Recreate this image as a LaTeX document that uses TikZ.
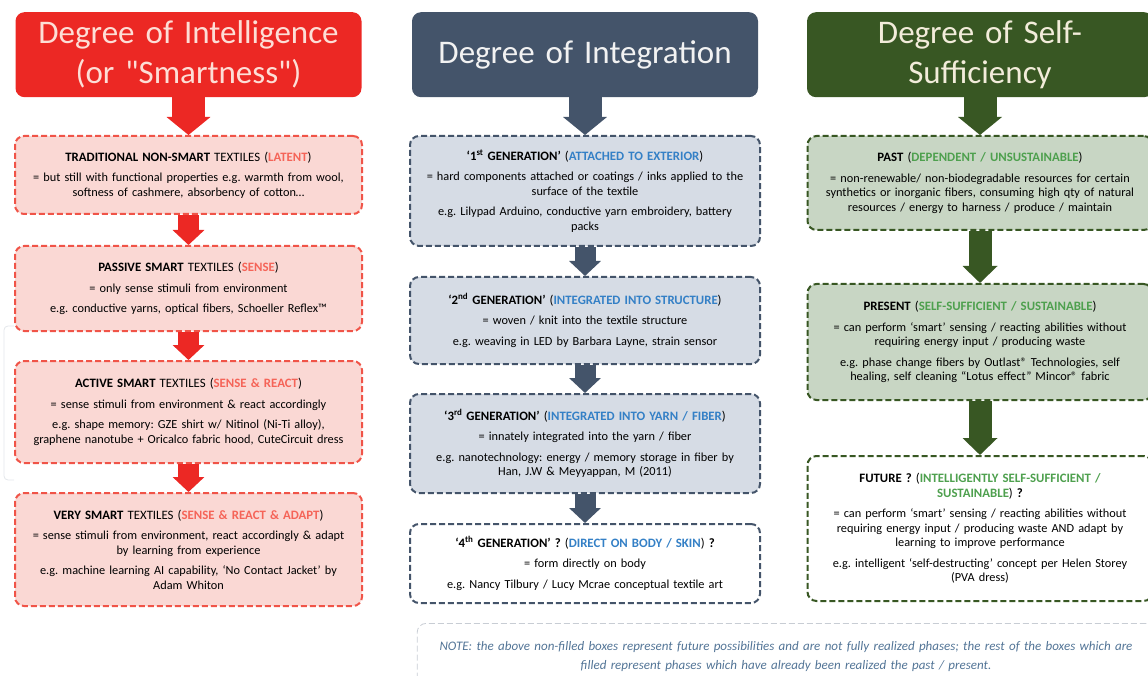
\documentclass[tikz,border=0pt]{standalone}
\usepackage{fontspec}
\setmainfont{Carlito}
\usetikzlibrary{arrows.meta}
\frenchspacing

\definecolor{redmain}{RGB}{236,40,36}
\definecolor{redline}{RGB}{240,84,72}
\definecolor{redfill}{RGB}{250,216,212}
\definecolor{redhl}{RGB}{245,100,88}
\definecolor{redtxt}{RGB}{253,222,214}
\definecolor{bluemain}{RGB}{68,84,106}
\definecolor{bluefill}{RGB}{214,220,229}
\definecolor{bluehl}{RGB}{52,128,198}
\definecolor{bluetxt}{RGB}{242,242,242}
\definecolor{greenmain}{RGB}{56,87,35}
\definecolor{greenfill}{RGB}{200,214,196}
\definecolor{greenhl}{RGB}{78,160,78}
\definecolor{greentxt}{RGB}{242,236,218}
\definecolor{notetxt}{RGB}{82,116,150}
\definecolor{noteline}{RGB}{200,205,212}

\newcommand{\phasehl}[2]{\textcolor{#1}{\textbf{#2}}}
\newcommand{\phasetitle}[1]{{\fontsize{12.8}{15}\selectfont #1}}
\newcommand{\straightquote}{\XeTeXglyph\XeTeXcharglyph"0022\relax}

\tikzset{
  headbox/.style={rounded corners=9pt, anchor=north, minimum height=85pt, align=center,
    text width=340pt, inner sep=3pt, font=\fontsize{33}{40}\selectfont},
  stagebox/.style={draw, line width=2pt, dash pattern=on 6pt off 3pt, rounded corners=9pt,
    anchor=north, align=center, inner xsep=3pt, font=\fontsize{12.3}{14.5}\selectfont},
  redbox/.style={stagebox, draw=redline, fill=redfill, text width=341pt},
  bluebox/.style={stagebox, draw=bluemain, fill=bluefill, text width=344pt},
  greenbox/.style={stagebox, draw=greenmain, fill=greenfill, text width=339pt},
  headarrow/.style={line width=33pt, -{Triangle[width=43pt,length=18pt]}},
  steparrow/.style={line width=21pt, -{Triangle[width=31pt,length=15pt]}},
  longarrow/.style={line width=23pt, -{Triangle[width=34pt,length=17pt]}},
}

\begin{document}
\begin{tikzpicture}[x=1pt, y=-1pt]
  \useasboundingbox (0,0) rectangle (1148,676);
  \draw[noteline!50, line width=0.8pt, rounded corners=4pt] (14,326) -- (4,326) -- (4,480) -- (14,480);

  % headers
  \node[headbox, fill=redmain, text=redtxt] (intel) at (188.5,12) {Degree of Intelligence\\(or \straightquote Smartness\straightquote)};
  \node[headbox, fill=bluemain, text=bluetxt] (integ) at (585,12) {Degree of Integration};
  \node[headbox, fill=greenmain, text=greentxt] (suff) at (980,12) {Degree of Self-\\Sufficiency};

  % intelligence
  \node[redbox, minimum height=78pt] (latent) at (188.5,135)
    {\phasetitle{\textbf{TRADITIONAL NON-SMART} TEXTILES (\phasehl{redhl}{LATENT})}\\[6pt]
     = but still with functional properties e.g. warmth from wool,\\
     softness of cashmere, absorbency of cotton…};
  \node[redbox, minimum height=85pt] (sense) at (188.5,245)
    {\phasetitle{\textbf{PASSIVE SMART} TEXTILES (\phasehl{redhl}{SENSE})}\\[6pt]
     = only sense stimuli from environment\\[6pt]
     e.g. conductive yarns, optical fibers, Schoeller Reflex™};
  \node[redbox, minimum height=102pt] (react) at (188.5,360)
    {\phasetitle{\textbf{ACTIVE SMART} TEXTILES (\phasehl{redhl}{SENSE \& REACT})}\\[6pt]
     = sense stimuli from environment \& react accordingly\\[6pt]
     e.g. shape memory: GZE shirt w/ Nitinol (Ni-Ti alloy),\\
     graphene nanotube + Oricalco fabric hood, CuteCircuit dress};
  \node[redbox, minimum height=113pt] (adapt) at (188.5,492)
    {\phasetitle{\textbf{VERY SMART} TEXTILES (\phasehl{redhl}{SENSE \& REACT \& ADAPT})}\\[6pt]
     = sense stimuli from environment, react accordingly \& adapt\\
     by learning from experience\\[6pt]
     e.g. machine learning AI capability, ‘No Contact Jacket’ by\\
     Adam Whiton};

  % integration
  \node[bluebox, minimum height=110pt] (gen1) at (585,135)
    {\phasetitle{\textbf{‘1\textsuperscript{st} GENERATION’} (\phasehl{bluehl}{ATTACHED TO EXTERIOR})}\\[6pt]
     = hard components attached or coatings / inks applied to the\\
     surface of the textile\\[6pt]
     e.g. Lilypad Arduino, conductive yarn embroidery, battery\\
     packs};
  \node[bluebox, minimum height=87pt] (gen2) at (585,276)
    {\phasetitle{\textbf{‘2\textsuperscript{nd} GENERATION’} (\phasehl{bluehl}{INTEGRATED INTO STRUCTURE})}\\[6pt]
     = woven / knit into the textile structure\\[6pt]
     e.g. weaving in LED by Barbara Layne, strain sensor};
  \node[bluebox, minimum height=99pt] (gen3) at (585,393)
    {\phasetitle{\textbf{‘3\textsuperscript{rd} GENERATION’} (\phasehl{bluehl}{INTEGRATED INTO YARN / FIBER})}\\[6pt]
     = innately integrated into the yarn / fiber\\[6pt]
     e.g. nanotechnology: energy / memory storage in fiber by\\
     Han, J.W \& Meyyappan, M (2011)};
  \node[bluebox, fill=white, minimum height=79pt] (gen4) at (585,523)
    {\phasetitle{\textbf{‘4\textsuperscript{th} GENERATION’ ?} (\phasehl{bluehl}{DIRECT ON BODY / SKIN}) \textbf{?}}\\[6pt]
     = form directly on body\\[6pt]
     e.g. Nancy Tilbury / Lucy Mcrae conceptual textile art};

  % self-sufficiency
  \node[greenbox, minimum height=94pt] (past) at (980,135)
    {\phasetitle{\textbf{PAST} (\phasehl{greenhl}{DEPENDENT / UNSUSTAINABLE})}\\[6pt]
     = non-renewable/ non-biodegradable resources for certain\\
     synthetics or inorganic fibers, consuming high qty of natural\\
     resources / energy to harness / produce / maintain};
  \node[greenbox, minimum height=116pt] (present) at (980,283)
    {\phasetitle{\textbf{PRESENT} (\phasehl{greenhl}{SELF-SUFFICIENT / SUSTAINABLE})}\\[6pt]
     = can perform ‘smart’ sensing / reacting abilities without\\
     requiring energy input / producing waste\\[6pt]
     e.g. phase change fibers by Outlast® Technologies, self\\
     healing, self cleaning “Lotus effect” Mincor® fabric};
  \node[greenbox, fill=white, minimum height=145pt] (future) at (980,455)
    {\phasetitle{\textbf{FUTURE ?} (\phasehl{greenhl}{INTELLIGENTLY SELF-SUFFICIENT /}}\\
     \phasetitle{\phasehl{greenhl}{SUSTAINABLE}) \textbf{?}}\\[6pt]
     = can perform ‘smart’ sensing / reacting abilities without\\
     requiring energy input / producing waste AND adapt by\\
     learning to improve performance\\[6pt]
     e.g. intelligent ‘self-destructing’ concept per Helen Storey\\
     (PVA dress)};

  % note
  \node[draw=noteline, line width=0.8pt, dash pattern=on 6pt off 3pt, rounded corners=9pt,
    anchor=north, align=center, text width=731pt, minimum height=67pt, text=notetxt,
    font=\itshape\fontsize{13}{19}\selectfont] (note) at (786,623)
    {NOTE: the above non-filled boxes represent future possibilities and are not fully realized phases; the rest of the boxes which are\\
     filled represent phases which have already been realized the past / present.};

  % arrows
  \draw[headarrow, redmain] (intel.south) -- (latent.north);
  \draw[steparrow, redmain] (latent.south) -- (sense.north);
  \draw[steparrow, redmain] (sense.south) -- (react.north);
  \draw[steparrow, redmain] (react.south) -- (adapt.north);
  \draw[headarrow, bluemain] (integ.south) -- (gen1.north);
  \draw[steparrow, bluemain] (gen1.south) -- (gen2.north);
  \draw[steparrow, bluemain] (gen2.south) -- (gen3.north);
  \draw[steparrow, bluemain] (gen3.south) -- (gen4.north);
  \draw[headarrow, greenmain] (suff.south) -- (past.north);
  \draw[longarrow, greenmain] (past.south) -- (present.north);
  \draw[longarrow, greenmain] (present.south) -- (future.north);
\end{tikzpicture}
\end{document}
